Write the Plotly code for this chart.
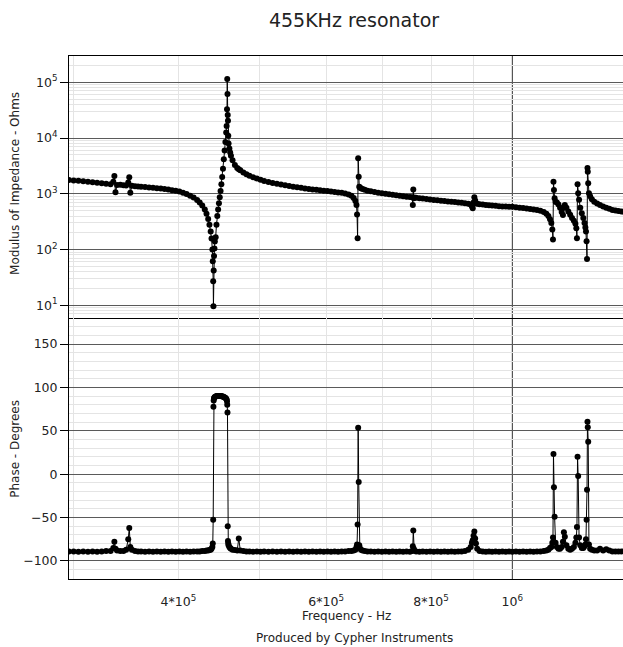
import plotly.graph_objects as go

# Sweep frequencies (kHz), impedance modulus (Ohms) and phase (degrees)
freq_khz = [
    296, 300, 304, 308, 312, 316, 320, 324, 328, 332,
    334.5, 335.5, 336.5, 338, 341, 344, 346.5, 348.5, 349.5, 350.5,
    352, 355, 358, 361, 365, 369, 373, 377, 381, 385,
    389, 393, 397, 401, 405, 409, 413, 417, 421, 424,
    427, 430, 432, 434, 435.5, 437, 438, 439, 439.5, 440,
    440.3, 440.6, 441, 441.5, 442, 443, 444, 445, 446, 447,
    448, 449, 450, 451, 452, 453, 454, 455, 456, 456.5,
    457, 457.3, 457.6, 457.9, 458.2, 458.6, 459, 460, 461, 462,
    464, 467, 470, 472, 474, 478, 482, 486, 491, 496,
    501, 506, 512, 518, 524, 530, 536, 542, 548, 554,
    560, 566, 572, 578, 584, 590, 596, 602, 608, 614,
    620, 626, 632, 638, 643, 647, 650, 652, 653, 654,
    655, 656, 657, 658, 660, 663, 667, 672, 678, 685,
    692, 699, 706, 713, 720, 727, 734, 741, 748, 755,
    760, 761, 762, 763, 764, 768, 775, 782, 790, 798,
    806, 814, 822, 830, 838, 846, 854, 862, 870, 878,
    886, 892, 895, 897, 899, 901, 903, 905, 908, 914,
    922, 930, 938, 946, 955, 964, 973, 982, 991, 1000,
    1010, 1020, 1030, 1040, 1050, 1060, 1070, 1080, 1090, 1098,
    1104, 1109, 1113, 1116, 1118, 1119.5, 1121, 1123, 1126, 1130,
    1135, 1140, 1145, 1149, 1152, 1155, 1160, 1166, 1172, 1178,
    1184, 1189, 1192, 1194, 1196, 1198, 1201, 1205, 1210, 1215,
    1219, 1222, 1224, 1226, 1227.5, 1229, 1230, 1231.5, 1234, 1238,
    1244, 1252, 1262, 1272, 1283, 1294, 1305, 1316, 1327, 1338,
    1349, 1360,
]

impedance_ohm = [
    1770, 1740, 1710, 1675, 1640, 1605, 1580, 1550, 1520, 1490,
    1650, 2090, 1065, 1440, 1450, 1430, 1410, 1590, 1980, 1040,
    1390, 1370, 1355, 1340, 1320, 1300, 1280, 1260, 1240, 1215,
    1190, 1160, 1135, 1105, 1050, 990, 920, 860, 775, 700,
    615, 525, 440, 355, 280, 210, 158, 100, 62, 27,
    9.6, 42, 77, 105, 140, 166, 280, 400, 525, 680,
    870, 1120, 1480, 2000, 2820, 4170, 6000, 8500, 12600, 16500,
    33000, 115000, 62000, 26000, 20500, 11000, 8000, 6500, 5500, 4800,
    4000, 3300, 2900, 2750, 2650, 2420, 2250, 2100, 1980, 1880,
    1780, 1700, 1630, 1570, 1520, 1470, 1420, 1380, 1345, 1310,
    1280, 1250, 1225, 1200, 1180, 1160, 1140, 1120, 1100, 1080,
    1060, 1040, 1010, 975, 920, 840, 740, 630, 427, 160,
    4330, 2030, 1340, 1300, 1260, 1220, 1180, 1140, 1110, 1080,
    1050, 1025, 1000, 980, 960, 940, 920, 905, 890, 875,
    870, 630, 1200, 830, 860, 850, 835, 820, 805, 790,
    775, 765, 750, 740, 730, 720, 710, 700, 690, 680,
    665, 640, 600, 550, 700, 865, 760, 680, 660, 650,
    640, 630, 622, 615, 608, 600, 595, 590, 587, 585,
    575, 565, 555, 545, 535, 523, 510, 495, 470, 440,
    400, 350, 300, 230, 152, 1650, 1170, 830, 720, 700,
    640, 560, 470, 415, 560, 630, 560, 480, 420, 370,
    330, 290, 240, 160, 1490, 1020, 780, 560, 450, 370,
    300, 250, 210, 141, 68, 2900, 2500, 1550, 1020, 900,
    800, 720, 670, 630, 590, 560, 540, 515, 500, 490,
    480, 475,
]

phase_deg = [
    -89, -89, -89.5, -89, -89.5, -89, -89.5, -89, -88.5, -88.5,
    -85, -78, -86, -88, -88.5, -88.5, -87, -75, -62, -84,
    -87, -88.5, -89, -89, -89.5, -89, -89.5, -89, -89.5, -89,
    -89.5, -89, -89.5, -89, -89.5, -89, -89.5, -89, -89, -89,
    -88.5, -88.5, -88, -88, -87.5, -87, -86, -84, -80, -52.6,
    77.8, 85, 87.5, 88.5, 89, 89.5, 90, 90, 90, 90,
    90, 90, 90, 89.5, 89.5, 89, 88.5, 88, 87, 86,
    84, 80, 71, -60, -77, -80, -82, -84, -85, -86,
    -87, -87.5, -88, -74, -88, -88.5, -89, -89, -89.5, -89,
    -89.5, -89, -89.5, -89, -89.5, -89, -89.5, -89, -89.5, -89,
    -89.5, -89, -89.5, -89, -89.5, -89, -89.5, -89, -89.5, -89,
    -89.5, -89, -89, -88.5, -88.5, -88, -87, -84, -81, -58,
    53.6, -9, -82, -85, -87, -88, -88.5, -89, -89, -89.5,
    -89, -89.5, -89, -89.5, -89, -89.5, -89, -89.5, -89, -89.5,
    -88.5, -83, -65, -86, -88, -89, -89.5, -89, -89.5, -89,
    -89.5, -89, -89.5, -89, -89.5, -89, -89.5, -89, -89, -88.5,
    -87, -84, -79, -76, -71, -66, -74, -80, -86, -88.5,
    -89, -89.5, -89, -89.5, -89, -89.5, -89, -89.5, -89, -89.5,
    -89, -89.5, -89, -89.5, -89, -89.5, -89, -89, -88.5, -88,
    -87, -85, -84, -79, -73, 23.3, -15, -49, -79, -84,
    -86, -86, -84, -78, -67, -72, -82, -86, -87, -86,
    -84, -79, -73, -61, 20, -2, -73, -82, -85, -85,
    -83, -81, -75, -52.6, -18, 60.5, 54, 37.5, -81, -86,
    -87, -88, -88, -86, -88, -86.5, -88, -89, -89, -89,
    -89, -89,
]

x_tick_vals = [4e5, 6e5, 8e5, 1e6]
x_tick_text = ["4*10<sup>5</sup>", "6*10<sup>5</sup>", "8*10<sup>5</sup>", "10<sup>6</sup>"]
x_minor_vals = [3e5, 4e5, 5e5, 6e5, 7e5, 8e5, 9e5]

z_tick_vals = [1e1, 1e2, 1e3, 1e4, 1e5]
z_tick_text = ["10<sup>1</sup>", "10<sup>2</sup>", "10<sup>3</sup>", "10<sup>4</sup>", "10<sup>5</sup>"]
z_minor_vals = [m * 10 ** k for k in range(0, 6) for m in range(2, 10)]

ph_tick_vals = [-100, -50, 0, 50, 100, 150]
ph_minor_vals = [v for v in range(-120, 190, 10) if v % 50 != 0]

freq_hz = [f * 1000 for f in freq_khz]

FONT = "DejaVu Sans"
MAJOR = "#5a5a5a"
MINOR = "#e4e4e4"

fig = go.Figure()
style = dict(mode="lines+markers", line=dict(color="black", width=1),
             marker=dict(color="black", size=6), showlegend=False, hoverinfo="skip")
fig.add_trace(go.Scatter(x=freq_hz, y=impedance_ohm, xaxis="x", yaxis="y", **style))
fig.add_trace(go.Scatter(x=freq_hz, y=phase_deg, xaxis="x2", yaxis="y2", **style))

x_range = [5.4716, 6.1319]
split = 0.499

common_x = dict(type="log", range=x_range, showgrid=False, zeroline=False,
                showline=True, linecolor="black", linewidth=1,
                minor=dict(tickvals=x_minor_vals, showgrid=True, gridcolor=MINOR, gridwidth=1))

fig.update_layout(
    width=623, height=647,
    margin=dict(l=69, r=0, t=56, b=68),
    plot_bgcolor="white", paper_bgcolor="white",
    font=dict(family=FONT, size=12.5, color="#222222"),
    showlegend=False,
    title=dict(text="455KHz resonator", font=dict(family=FONT, size=19, color="#222222"),
               x=0.5144, xref="paper", xanchor="center", y=1 - 20 / 647, yanchor="middle"),
    xaxis=dict(anchor="y", domain=[0, 1], showticklabels=False, mirror=True, **common_x),
    xaxis2=dict(anchor="y2", domain=[0, 1], matches="x", tickvals=x_tick_vals, ticktext=x_tick_text,
                ticks="", ticklabelstandoff=11, mirror=False, **common_x),
    yaxis=dict(anchor="x", domain=[split, 1], type="log", range=[0.772, 5.472],
               tickvals=z_tick_vals, ticktext=z_tick_text, showgrid=True, gridcolor=MAJOR, gridwidth=1,
               ticks="outside", ticklen=8, tickcolor="black", zeroline=False,
               showline=True, linecolor="black", linewidth=1,
               minor=dict(tickvals=z_minor_vals, showgrid=True, gridcolor=MINOR, gridwidth=1)),
    yaxis2=dict(anchor="x2", domain=[0, split], range=[-120.8, 180],
                tickvals=ph_tick_vals, showgrid=True, gridcolor=MAJOR, gridwidth=1,
                ticks="outside", ticklen=8, tickcolor="black", zeroline=False,
                showline=True, linecolor="black", linewidth=1,
                minor=dict(tickvals=ph_minor_vals, showgrid=True, gridcolor=MINOR, gridwidth=1)),
    shapes=[dict(type="line", xref="x2", yref="paper", x0=1e6, x1=1e6, y0=0, y1=1,
                 line=dict(color="#333333", width=1), layer="between")],
    annotations=[
        dict(text="Frequency - Hz", xref="paper", yref="paper", x=0.5, y=(579.3 - 616) / 523.3,
             xanchor="center", yanchor="middle", showarrow=False, font=dict(family=FONT, size=12)),
        dict(text="Produced by Cypher Instruments", xref="paper", yref="paper",
             x=(354.5 - 69) / 554, y=(579.3 - 638) / 523.3,
             xanchor="center", yanchor="middle", showarrow=False, font=dict(family=FONT, size=12)),
        dict(text="Modulus of Impedance - Ohms", xref="paper", yref="paper", x=(15 - 69) / 554,
             y=(579.3 - 184) / 523.3, textangle=-90, xanchor="center", yanchor="middle",
             showarrow=False, font=dict(family=FONT, size=12)),
        dict(text="Phase - Degrees", xref="paper", yref="paper", x=(15 - 69) / 554,
             y=(579.3 - 449) / 523.3, textangle=-90, xanchor="center", yanchor="middle",
             showarrow=False, font=dict(family=FONT, size=12)),
    ],
)

fig.write_html("out.html", config={"displayModeBar": False},
               post_script="document.body.style.margin='0px';")
